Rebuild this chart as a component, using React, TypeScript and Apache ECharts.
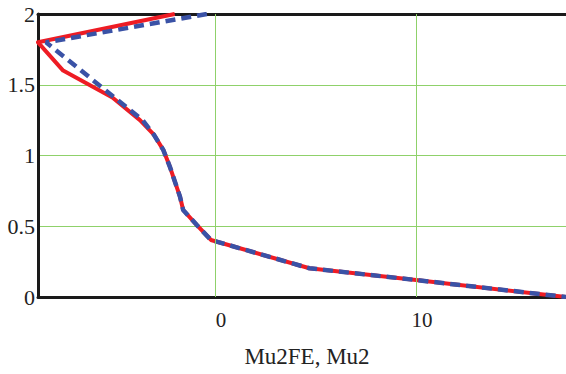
import React, { useEffect, useRef } from "react";
import * as echarts from "echarts";

// Mu2FE (red, solid)
const redX = [-2.0, -8.8, -7.55, -5.1, -3.73, -3.05, -2.57, -2.24, -1.74, -1.58, -0.91, -0.2, 4.7, 10, 17.46];
const redY = [2.0, 1.8, 1.6, 1.41, 1.25, 1.15, 1.04, 0.92, 0.71, 0.615, 0.51, 0.403, 0.203, 0.12, 0];
// Mu2 (blue, dashed)
const blueX = [-0.4, -8.4, -3.6, -3.05, -2.57, -2.24, -1.74, -1.58, -0.91, -0.2, 4.7, 10, 17.46];
const blueY = [2.0, 1.8, 1.25, 1.15, 1.04, 0.92, 0.71, 0.615, 0.51, 0.403, 0.203, 0.12, 0];

const xTicks = [0, 10];
const xMin = -8.8;
const xMax = 17.46;
const yMin = 0;
const yMax = 2;
const yStep = 0.5;
const axisTitle = "Mu2FE, Mu2";

const FONT = "serif";

const zip = (xs: number[], ys: number[]) => xs.map((x, i) => [x, ys[i]]);

export default function App() {
  const ref = useRef<HTMLDivElement>(null);
  useEffect(() => {
    if (!ref.current) return;
    const chart = echarts.init(ref.current, null, { renderer: "svg" });
    chart.setOption({
      animation: false,
      backgroundColor: "#ffffff",
      textStyle: { fontFamily: FONT },
      grid: { left: 38, right: 0, top: 14, bottom: 77 },
      xAxis: [
        {
          type: "value",
          min: xMin,
          max: xMax,
          position: "bottom",
          name: axisTitle,
          nameLocation: "middle",
          nameGap: 48,
          nameTextStyle: { fontFamily: FONT, fontSize: 23, color: "#222", padding: [0, 0, 0, 10] },
          axisLine: { show: true, onZero: false, lineStyle: { color: "#1a1a1a", width: 3 } },
          axisTick: { show: false },
          splitLine: { show: false },
          axisLabel: {
            customValues: xTicks,
            fontFamily: FONT,
            fontSize: 21,
            color: "#222",
            margin: 12,
            padding: [0, 0, 0, 12],
          },
        },
        {
          type: "value",
          min: xMin,
          max: xMax,
          position: "top",
          axisLine: { show: true, onZero: false, lineStyle: { color: "#1a1a1a", width: 3 } },
          axisTick: { show: false },
          axisLabel: { show: false },
          splitLine: { show: false },
        },
      ],
      yAxis: [
        {
          type: "value",
          min: yMin,
          max: yMax,
          interval: yStep,
          position: "left",
          axisLine: { show: true, onZero: false, lineStyle: { color: "#1a1a1a", width: 3 } },
          axisTick: { show: false },
          splitLine: { show: true, lineStyle: { color: "#8fd16a", width: 1 } },
          axisLabel: {
            fontFamily: FONT,
            fontSize: 22,
            color: "#222",
            margin: 3,
            padding: [6, 0, 0, 0],
          },
        },
        {
          type: "value",
          min: yMin,
          max: yMax,
          interval: yStep,
          position: "right",
          axisLine: { show: true, onZero: false, lineStyle: { color: "#cccccc", width: 1 } },
          axisTick: { show: false },
          axisLabel: { show: false },
          splitLine: { show: false },
        },
      ],
      series: [
        {
          type: "line",
          data: [],
          silent: true,
          z: 1,
          markLine: {
            silent: true,
            symbol: "none",
            label: { show: false },
            lineStyle: { color: "#8fd16a", width: 1, type: "solid" },
            data: xTicks.map((v) => ({ xAxis: v })),
          },
        },
        {
          name: "Mu2FE",
          type: "line",
          data: zip(redX, redY),
          showSymbol: false,
          z: 3,
          lineStyle: { color: "#ee1c24", width: 4, join: "round" },
        },
        {
          name: "Mu2",
          type: "line",
          data: zip(blueX, blueY),
          showSymbol: false,
          z: 4,
          lineStyle: { color: "#3a52a6", width: 4.5, type: [10, 6], cap: "butt" },
        },
      ],
    });
    return () => chart.dispose();
  }, []);
  return (
    <div
      ref={ref}
      style={{ position: "fixed", left: 0, top: 0, width: 566, height: 374, background: "#fff" }}
    />
  );
}
